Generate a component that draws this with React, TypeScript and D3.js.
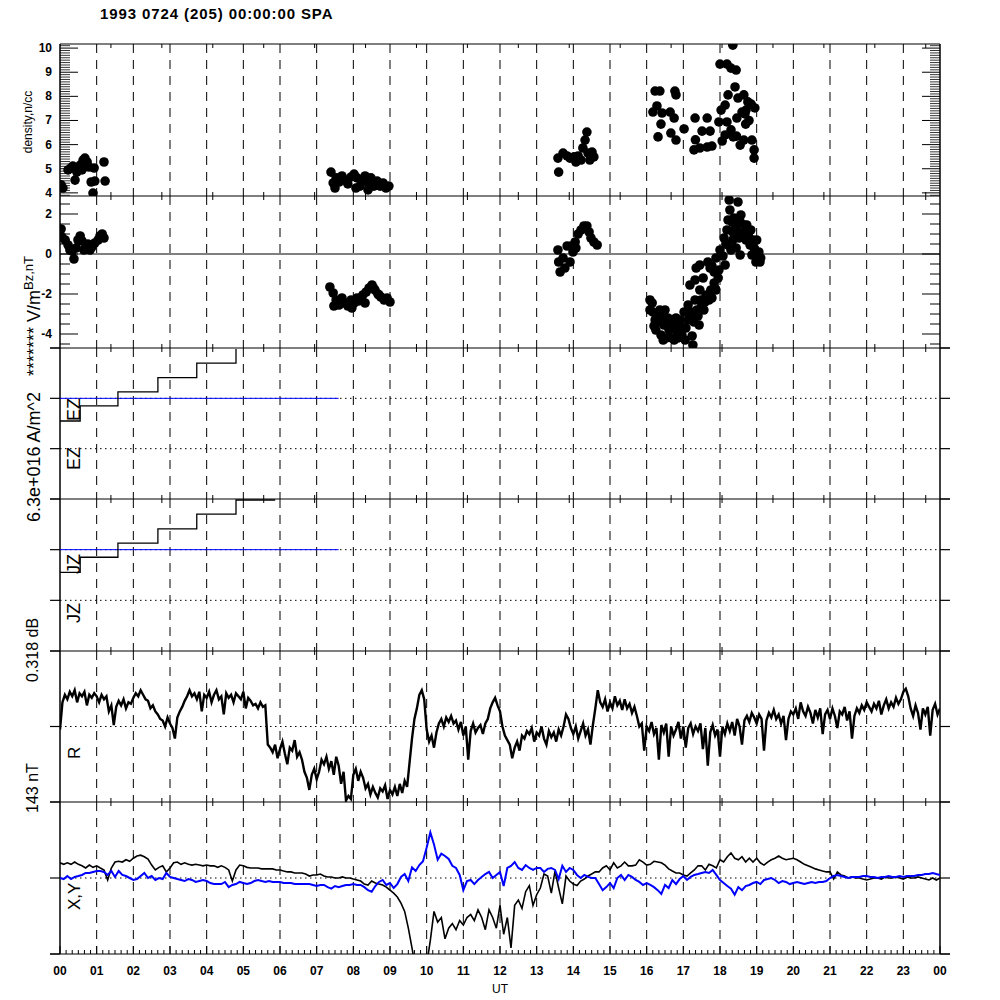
import React from "react";
import * as d3 from "d3";

// ---------------- DATA ----------------
const TITLE = "1993 0724 (205) 00:00:00 SPA";
const hourLabels = ["00","01","02","03","04","05","06","07","08","09","10","11","12","13","14","15","16","17","18","19","20","21","22","23","00"];
const densityTicks = [4, 5, 6, 7, 8, 9, 10];
const bzTicks = [2, 0, -2, -4];

// density, n/cc (hour, value)
const densityHours = [
  0.03,0.08,0.22,0.30,0.35,0.41,0.46,0.55,0.60,0.63,0.68,0.74,0.79,0.85,0.90,0.93,0.95,1.20,1.23,
  7.39,7.45,7.50,7.53,7.61,7.69,7.77,7.85,7.94,8.02,8.07,8.10,8.18,8.24,8.32,8.40,8.40,8.48,8.56,8.65,8.73,8.81,8.89,8.97,
  13.58,13.60,13.72,13.83,13.91,14.02,14.07,14.13,14.21,14.26,14.32,14.37,14.40,14.45,14.51,14.56,
  16.23,16.36,16.77,16.80,16.28,16.17,16.42,16.64,16.75,16.39,16.31,16.66,16.80,17.02,17.32,17.65,17.51,17.73,17.65,17.78,
  17.97,18.03,18.14,18.22,18.00,18.19,18.30,18.44,18.35,18.19,18.30,18.14,18.06,18.36,18.55,18.65,18.49,18.65,18.76,18.71,
  18.85,18.95,18.87,18.93,18.93,17.29,17.45,18.46,18.60,18.41,18.70,18.68,18.79,17.33,18.45
];
const densityValues = [
  4.33,4.20,4.95,5.03,5.11,4.53,4.86,5.15,4.95,5.36,5.44,5.28,5.07,4.45,3.99,5.03,4.49,5.28,4.49,
  4.86,4.41,4.20,4.62,4.45,4.70,4.53,4.37,4.66,4.78,4.20,4.62,4.28,4.53,4.70,4.41,4.12,4.62,4.28,4.49,4.28,4.41,4.20,4.28,
  5.44,4.86,5.65,5.53,5.44,5.49,5.28,5.53,5.36,5.86,6.19,6.52,5.65,5.36,5.69,5.49,
  8.22,8.22,8.22,8.06,7.60,7.35,7.31,7.35,7.10,6.85,6.32,6.48,6.19,6.65,7.10,7.10,6.56,6.56,5.90,5.94,
  6.94,7.43,7.64,8.06,9.34,9.34,9.17,9.09,10.12,6.94,6.61,6.40,6.15,6.32,5.98,6.19,7.93,8.06,7.77,7.43,
  7.68,7.52,6.19,5.78,5.44,5.78,5.86,7.10,7.35,8.39,6.85,7.27,7.00,6.20,6.35
];

// Bz, nT (hour, value)
const bzHours = [
  0.03,0.05,0.14,0.22,0.27,0.33,0.38,0.44,0.49,0.55,0.60,0.65,0.71,0.76,0.82,0.87,0.95,1.04,1.09,1.15,1.20,
  7.36,7.45,7.53,7.61,7.69,7.77,7.85,7.94,8.02,8.10,8.18,8.26,8.35,8.43,8.51,8.59,8.67,8.75,8.84,8.92,9.00,7.47,7.96,8.32,
  7.58,7.88,8.14,8.55,8.70,
  13.58,13.60,13.64,13.72,13.77,13.83,13.91,13.99,14.05,14.13,14.21,14.29,14.37,14.43,14.48,14.56,14.65,13.94,14.07,
  16.15,16.17,16.23,16.25,16.34,16.39,16.47,16.53,16.61,16.69,16.75,16.83,16.91,16.96,17.02,17.07,17.13,17.18,17.24,17.26,
  17.32,17.37,17.43,17.48,17.56,17.62,17.70,17.75,17.84,17.89,17.95,
  17.32,17.35,17.45,17.67,17.78,17.89,18.00,18.08,18.11,18.16,18.19,18.22,18.27,18.25,18.49,18.38,18.46,18.55,18.60,18.67,
  18.71,18.79,18.82,18.87,18.93,18.98,19.04,19.09,18.44,18.55,18.35,
  17.18,17.54,16.36,16.58,16.80,16.09,
  16.09,16.20,16.31,16.42,16.50,16.58,16.66,16.75,16.85,16.93,17.05,17.13,17.21,17.29,17.40,17.50,17.59,17.67,17.78,17.86,17.45,16.45,
  18.33,18.41,18.52,18.57,18.65,18.73,18.79,18.84,18.90,18.95,19.00,19.06,19.11,18.30,18.14,17.97,17.84,17.73,18.22,18.35
];
const bzValues = [
  1.25,0.85,0.70,0.45,0.20,0.15,-0.25,0.30,0.70,0.90,0.65,0.20,0.40,0.50,0.20,0.35,0.55,0.70,0.90,1.00,0.80,
  -1.65,-1.95,-2.30,-2.55,-2.20,-2.45,-2.60,-2.30,-2.45,-2.20,-2.30,-2.05,-1.90,-1.70,-1.55,-1.80,-2.00,-2.15,-2.30,-2.20,-2.40,-2.60,-2.70,-2.45,
  -2.40,-2.55,-2.35,-1.70,-2.05,
  0.20,-0.40,-0.90,-0.20,-0.70,0.40,-0.40,0.10,0.60,1.00,1.20,1.40,1.40,1.10,0.80,0.60,0.45,0.40,0.30,
  -2.45,-2.90,-3.30,-3.80,-3.40,-4.05,-3.55,-4.20,-3.80,-4.20,-3.55,-3.90,-3.30,-4.05,-2.90,-3.70,-2.55,-3.20,-4.10,-4.55,
  -2.30,-2.80,-3.55,-2.30,-2.80,-2.05,-2.30,-1.80,-1.45,-1.80,-1.20,
  -1.30,-0.70,-0.55,-0.40,-0.60,-0.20,0.20,-0.10,0.80,0.50,1.20,1.70,2.20,2.70,2.60,1.80,1.20,1.60,0.95,1.45,
  0.70,1.10,0.45,-0.05,0.30,-0.40,-0.05,-0.40,0.30,-0.05,0.70,
  -1.55,-1.20,-2.80,-3.20,-3.20,-2.30,
  -2.80,-3.60,-3.10,-3.20,-2.80,-3.60,-3.30,-4.30,-4.20,-3.60,-4.30,-3.30,-2.90,-3.40,-3.10,-2.60,-2.40,-2.10,-2.20,-1.70,-1.80,-4.30,
  1.60,1.30,0.80,1.95,1.05,1.45,0.80,1.20,0.70,0.20,0.70,0.10,-0.20,0.20,-0.55,-0.80,-0.90,-0.70,0.45,1.10
];

// EZ / JZ staircases (hour, value)
const ezHours = [0, 0.55, 1.58, 2.67, 3.73, 4.8];
const ezValues = [-0.45, -0.15, 0.13, 0.41, 0.70, 0.98];
const jzHours = [0, 0.55, 1.58, 2.67, 3.73, 4.8, 5.87];
const jzValues = [-0.45, -0.15, 0.13, 0.41, 0.70, 0.98, 0.98];
const zeroLineHours = [0, 7.6];

// R, sampled every 4 minutes
const rStepMinutes = 4;
const rValues = [
  48,66,71,68,73,70,74,66,72,70,
  73,64,71,69,72,70,66,71,68,70,
  60,64,51,63,67,64,68,62,66,65,
  69,72,70,74,71,68,67,62,64,60,
  58,55,54,50,56,52,49,42,56,60,
  63,67,70,74,70,72,68,73,60,71,
  69,73,66,71,74,68,70,58,72,69,
  71,66,72,70,68,73,62,69,67,64,
  65,62,66,63,64,38,36,33,38,29,
  35,40,32,25,36,34,41,30,33,28,
  20,16,8,18,22,15,20,28,25,30,
  22,27,18,30,24,12,20,1,4,2,
  18,22,14,20,16,9,12,5,10,6,
  3,9,7,11,2,8,5,10,4,12,
  6,14,10,26,42,55,62,71,74,68,
  48,40,44,36,46,52,55,50,56,53,
  57,52,54,48,53,44,50,28,47,52,
  46,49,51,45,52,55,62,66,69,64,
  60,50,44,41,38,29,36,40,34,44,
  42,47,45,49,40,46,44,50,42,38,
  47,43,46,40,48,44,50,58,55,49,
  45,50,42,47,52,44,48,38,51,62,
  74,66,63,68,60,66,62,70,64,67,
  61,68,62,65,59,63,57,50,52,34,
  50,47,53,45,49,28,51,46,52,30,
  50,44,48,53,42,50,36,49,52,45,
  50,47,52,35,49,24,46,51,44,48,
  30,50,45,52,47,53,44,55,50,38,
  54,57,53,59,56,52,58,55,34,54,
  59,56,61,55,58,52,57,41,55,60,
  58,62,55,66,60,57,63,59,52,61,
  56,62,45,58,61,55,62,57,49,60,
  58,63,54,60,42,57,62,59,64,61,
  66,63,60,65,62,67,58,64,68,62,
  66,63,69,65,68,73,75,70,62,57,
  64,59,48,62,58,63,44,61,65,58,
  62
];

// X (black) and Y (blue), sampled every 6 minutes
const magStepMinutes = 6;
const xComp = [
  10,9,10,9,10.5,9,8,6.6,8.5,7,
  8,6.6,5.3,-1.3,6.6,10.5,11,10.5,12,11,
  13,14.5,15,14,12.5,8.5,5.3,7,8,4,
  6.6,10,10.5,9,10,9,8.5,9,8.5,8,
  8.5,8,8,7,8,7,5.3,-2,5.3,8.5,
  8,7,6.6,6.6,6.6,6,6,6,6,5.3,
  5.3,4.6,4,4,3.3,3.3,3.3,2.6,1.3,2,
  2,2.6,1.3,0.7,0.7,0,0,0.7,0,0,
  -0.7,-1.3,-2,-4,-4.6,-2,-3.3,-4,-4.6,-6,
  -8,-10,-12.5,-16.5,-22,-33,-46,-60,-70,-70,
  -57,-41,-22,-29,-26,-40,-33,-30,-34,-28,
  -31,-26,-24,-28,-21,-26,-34,-21,-26,-33,
  -18,-37,-26,-46,-18,-14.5,-20,-9,-5,-18,
  -11,-6.6,2.6,1.3,-10,4.6,-6.6,-17,1.3,-2,
  -4,-5,-2,-0.7,1.3,2.6,4,4,6.6,8,
  5.3,10,6.6,8,10.5,8,8,8.5,12,10.5,
  8.5,9,11,10.5,10,8.5,6,4.6,3.3,3.3,
  2,1.3,3.3,5.3,8,8,5.3,9,8,6.6,
  12,10.5,14,16.5,13,12,14,10.5,13,10.5,
  13,10,8.5,10.5,12,13,14.5,13,12,12.5,
  13,12,10.5,9,8,7,6,5.3,4.6,4,
  4,-0.7,4,2,1.3,0,0.7,0,0,-0.7,
  -1.3,-0.7,0,0,-0.7,0.7,0,0,0.7,0,
  -0.7,0.7,0,0,0.7,0,-0.7,-1.3,0,-1.3,
  0
];
const yComp = [
  0,-0.7,1.3,-0.7,0.7,1.3,2,3.3,3.3,4,
  4.6,4.6,4,2,4.6,0.7,4.6,2,1.3,0,
  -1.3,-0.7,1.3,3.3,0,1.3,-1.3,0,-0.7,3.3,
  0.7,0,-0.7,-1.3,-2,-0.7,-1.3,-2.6,-2,-1.3,
  -2,-3.3,-4,-4,-4,-2.6,-6,-4.6,-4,-2.6,
  -3.3,-4,-3.3,-2,-1.3,-2,-2.6,-2,-2.6,-2.6,
  -2.6,-3.3,-3.3,-3.3,-4,-4,-4,-4,-4,-4.6,
  -5.3,-4.6,-4.6,-6,-7,-5.3,-6,-5.3,-4.6,-4.6,
  -4,-4.6,-4.6,-6,-8,-9,-5.3,-2.6,-1.3,-4.6,
  -3.3,-6.6,-4,0.7,2.6,-2,7,4.6,8.5,11,
  20,30,22,12,16,14.5,12.5,8,6.6,2,
  -8,-2,-1.3,-4,-1.3,0.7,2.6,4,0,2,
  4,-5.3,6.6,8,10.5,6.6,5.3,8.5,6.6,5.3,
  6.6,6.6,4,6,6.6,5.3,-0.7,8,4,6.6,
  5.3,2,0,2,0.7,0,0,-4,-8,-6,
  -3.3,-6.6,0,2,-1.3,2,0.7,-1.3,-2.6,-4.6,
  -3.3,-4.6,-6,-8,-10.5,-4.6,-6.6,-1.3,-4,-0.7,
  1.3,-1.3,0.7,2,2.6,3.3,4,3.3,5.3,2,
  -1.3,-3.3,-5.3,-7,-11,-6,-8,-5.3,-4.6,-3.3,
  -2.6,-4,-1.3,-0.7,0,-1.3,-3.3,-2,-2.6,-4,
  -3.3,-2.6,-3.3,-4,-3.3,-2.6,-3.3,-2.6,-2.6,-2,
  0,1.3,2,1.3,0.7,0,0.7,0.7,0.7,1.3,
  1.3,0.7,0.7,0,0.7,0.7,1.3,0.7,0.7,1.3,
  0.7,1.3,1.3,1.3,2,2,2.6,2.6,3.3,2.6,
  2
];

// ---------------- LAYOUT ----------------
const FONT = "'Liberation Sans', Arial, Helvetica, sans-serif";
const XL = 60, XR = 940;
const PANELS = [
  { top: 44, bottom: 196 },
  { top: 196, bottom: 348 },
  { top: 348, bottom: 499 },
  { top: 499, bottom: 651 },
  { top: 651, bottom: 802 },
  { top: 802, bottom: 954 },
];

function RotText({ x, y, text, size, anchor = "start", weight = "normal" }: any) {
  return (
    <text transform={`translate(${x},${y}) rotate(-90)`} fontSize={size} textAnchor={anchor}
      fontWeight={weight} fontFamily={FONT} fill="#000">{text}</text>
  );
}

export default function App() {
  const x = d3.scaleLinear().domain([0, 24]).range([XL, XR]);
  const yDen = d3.scaleLinear().domain([3.87, 10.17]).range([196, 44]);
  const yBz = d3.scaleLinear().domain([-4.7, 2.9]).range([348, 196]);
  const yEz = d3.scaleLinear().domain([-2, 1]).range([499, 348]);
  const yJz = d3.scaleLinear().domain([-2, 1]).range([651, 499]);
  const yR = d3.scaleLinear().domain([0, 100]).range([802, 651]);
  const yXY = d3.scaleLinear().domain([-50, 50]).range([954, 802]);

  const stepLine = (ys: any) =>
    d3.line<[number, number]>().x((d) => x(d[0])).y((d) => ys(d[1])).curve(d3.curveStepAfter);
  const ezPath = stepLine(yEz)(ezHours.map((h, i) => [h, ezValues[i]]))!;
  const jzPath = stepLine(yJz)(jzHours.map((h, i) => [h, jzValues[i]]))!;

  const rLine = d3.line<number>().x((_, i) => x((i * rStepMinutes) / 60)).y((v) => yR(v));
  const magLine = d3.line<number>().x((_, i) => x((i * magStepMinutes) / 60)).y((v) => yXY(v));

  const dottedLevels = [yEz(0), yEz(-1), yJz(0), yJz(-1), yR(50), yXY(0)];
  const outerTickYs = [348, 499, 651, 802, 954, ...dottedLevels];

  const boundaryTickHours = d3.range(1, 18).map((k) => (k * 5000) / 3600);
  const innerHours = d3.range(1, 24);
  const minorBottom = d3.range(0, 24 * 6 + 1).filter((k) => k % 6 !== 0).map((k) => k / 6);

  const denMinor = d3.range(39, 102).filter((k) => k % 10 !== 0).map((k) => k / 10);
  const bzMinor = d3.range(-9, 6).filter((k) => k % 4 !== 0).map((k) => k / 2);

  return (
    <svg width={1000} height={1000} viewBox="0 0 1000 1000"
      style={{ position: "absolute", left: 0, top: 0, background: "#fff" }}>
      <rect x={0} y={0} width={1000} height={1000} fill="#fff" />
      <defs>
        {PANELS.map((p, i) => (
          <clipPath id={`clip${i}`} key={i}>
            <rect x={XL} y={p.top} width={XR - XL} height={p.bottom - p.top} />
          </clipPath>
        ))}
      </defs>

      {/* Title */}
      <text x={100} y={19} fontSize={15} fontWeight="bold" letterSpacing={0.9} fontFamily={FONT}>{TITLE}</text>

      {/* dashed hour lines */}
      {PANELS.map((p, pi) =>
        innerHours.map((h) => (
          <line key={`d${pi}-${h}`} x1={x(h)} x2={x(h)} y1={p.top} y2={p.bottom}
            stroke="#000" strokeWidth={1} strokeDasharray="9,7" />
        ))
      )}

      {/* dotted reference levels */}
      {dottedLevels.map((yv, i) => (
        <line key={`dot${i}`} x1={XL} x2={XR} y1={yv} y2={yv} stroke="#000" strokeWidth={1} strokeDasharray="1.5,3.5" />
      ))}

      {/* Bz zero line */}
      <line x1={XL} x2={XR} y1={yBz(0)} y2={yBz(0)} stroke="#000" strokeWidth={1.2} />

      {/* panel boundary lines */}
      <line x1={XL} x2={XR} y1={44} y2={44} stroke="#000" strokeWidth={1.2} />
      <line x1={XL} x2={XR} y1={196} y2={196} stroke="#000" strokeWidth={1.2} />
      {[348, 499, 651, 802, 954].map((yv) => (
        <line key={`b${yv}`} x1={50} x2={950} y1={yv} y2={yv} stroke="#000" strokeWidth={1.2} />
      ))}
      {outerTickYs.map((yv, i) => (
        <g key={`ot${i}`}>
          <line x1={50} x2={XL} y1={yv} y2={yv} stroke="#000" strokeWidth={1.2} />
          <line x1={XR} x2={950} y1={yv} y2={yv} stroke="#000" strokeWidth={1.2} />
        </g>
      ))}
      <line x1={XL} x2={XL} y1={44} y2={954} stroke="#000" strokeWidth={1.5} />
      <line x1={XR} x2={XR} y1={44} y2={954} stroke="#000" strokeWidth={1.5} />

      {/* boundary ticks every 5000 s */}
      {[44, 196, 348, 499, 651, 802].map((yv) =>
        boundaryTickHours.map((h) => (
          <line key={`bt${yv}-${h}`} x1={x(h)} x2={x(h)} y1={yv === 44 ? yv : yv - 4} y2={yv + 4}
            stroke="#000" strokeWidth={1} />
        ))
      )}

      {/* bottom axis ticks */}
      {d3.range(0, 25).map((h) => (
        <line key={`mt${h}`} x1={x(h)} x2={x(h)} y1={954} y2={946} stroke="#000" strokeWidth={1} />
      ))}
      {minorBottom.map((h, i) => (
        <line key={`mn${i}`} x1={x(h)} x2={x(h)} y1={954} y2={950} stroke="#000" strokeWidth={1} />
      ))}
      {hourLabels.map((lab, i) => (
        <text key={`hl${i}`} x={x(i)} y={975} fontSize={12} fontWeight="bold" textAnchor="middle" fontFamily={FONT}>{lab}</text>
      ))}
      <text x={500} y={993} fontSize={12} textAnchor="middle" fontFamily={FONT}>UT</text>

      {/* density axis */}
      {denMinor.map((v, i) => (
        <g key={`dm${i}`}>
          <line x1={XL} x2={XL + 10} y1={yDen(v)} y2={yDen(v)} stroke="#000" strokeWidth={0.8} />
          <line x1={XR - 10} x2={XR} y1={yDen(v)} y2={yDen(v)} stroke="#000" strokeWidth={0.8} />
        </g>
      ))}
      {densityTicks.map((v) => (
        <g key={`dt${v}`}>
          <line x1={XL} x2={XL + 18} y1={yDen(v)} y2={yDen(v)} stroke="#000" strokeWidth={1} />
          <line x1={XR - 18} x2={XR} y1={yDen(v)} y2={yDen(v)} stroke="#000" strokeWidth={1} />
          <text x={52} y={yDen(v) + 4} fontSize={12} fontWeight="bold" textAnchor="end" fontFamily={FONT}>{v}</text>
        </g>
      ))}

      {/* Bz axis */}
      {bzMinor.map((v, i) => (
        <g key={`bm${i}`}>
          <line x1={XL} x2={XL + 10} y1={yBz(v)} y2={yBz(v)} stroke="#000" strokeWidth={1} />
          <line x1={XR - 10} x2={XR} y1={yBz(v)} y2={yBz(v)} stroke="#000" strokeWidth={1} />
        </g>
      ))}
      {bzTicks.map((v) => (
        <g key={`bzt${v}`}>
          <line x1={XL} x2={XL + 18} y1={yBz(v)} y2={yBz(v)} stroke="#000" strokeWidth={1} />
          <line x1={XR - 18} x2={XR} y1={yBz(v)} y2={yBz(v)} stroke="#000" strokeWidth={1} />
          <text x={52} y={yBz(v) + 4} fontSize={12} fontWeight="bold" textAnchor="end" fontFamily={FONT}>{v}</text>
        </g>
      ))}

      {/* density dots */}
      <g clipPath="url(#clip0)">
        {densityHours.map((h, i) => (
          <circle key={`dd${i}`} cx={x(h)} cy={yDen(densityValues[i])} r={4.8} fill="#000" />
        ))}
      </g>
      {/* Bz dots */}
      <g clipPath="url(#clip1)">
        {bzHours.map((h, i) => (
          <circle key={`bd${i}`} cx={x(h)} cy={yBz(bzValues[i])} r={4.8} fill="#000" />
        ))}
      </g>

      {/* EZ / JZ */}
      <line x1={x(zeroLineHours[0])} x2={x(zeroLineHours[1])} y1={yEz(0)} y2={yEz(0)} stroke="#0000ff" strokeWidth={1} />
      <line x1={x(zeroLineHours[0])} x2={x(zeroLineHours[1])} y1={yJz(0)} y2={yJz(0)} stroke="#0000ff" strokeWidth={1} />
      <path d={ezPath} fill="none" stroke="#000" strokeWidth={1.3} />
      <path d={jzPath} fill="none" stroke="#000" strokeWidth={1.3} />

      {/* R */}
      <g clipPath="url(#clip4)">
        <path d={rLine(rValues)!} fill="none" stroke="#000" strokeWidth={2.4} strokeLinejoin="miter" />
      </g>

      {/* X, Y */}
      <g clipPath="url(#clip5)">
        <path d={magLine(xComp)!} fill="none" stroke="#000" strokeWidth={1.6} />
        <path d={magLine(yComp)!} fill="none" stroke="#0000ff" strokeWidth={2} />
      </g>

      {/* Panel labels */}
      <RotText x={32} y={122} text="density,n/cc" size={12} anchor="middle" />
      <RotText x={40} y={522} text="6.3e+016 A/m^2" size={18} />
      <RotText x={40} y={290} text="******* V/m" size={18} anchor="end" />
      <RotText x={33} y={290} text="Bz,nT" size={13} />
      <RotText x={38} y={682} text="0.318 dB" size={16} />
      <RotText x={38} y={813} text="143 nT" size={16} />
      <RotText x={80} y={421} text="EZ" size={18} />
      <RotText x={80} y={470} text="EZ" size={18} />
      <RotText x={80} y={574} text="JZ" size={18} />
      <RotText x={80} y={623} text="JZ" size={18} />
      <RotText x={80} y={759} text="R" size={17} />
      <RotText x={80} y={910} text="X,Y" size={17} />
    </svg>
  );
}
